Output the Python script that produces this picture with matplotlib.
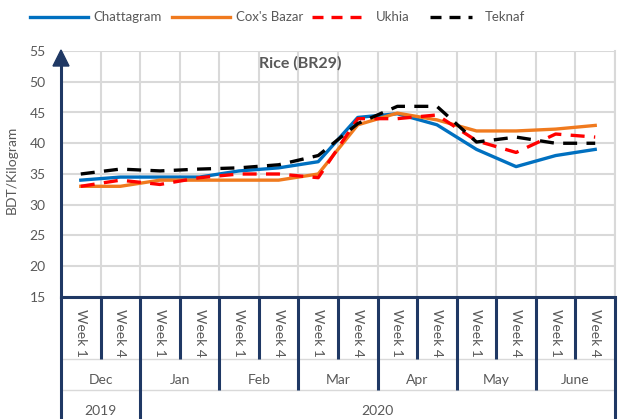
import matplotlib
matplotlib.use("Agg")
import matplotlib.pyplot as plt
from matplotlib.lines import Line2D
from matplotlib.patches import Polygon
import numpy as np

plt.rcParams['font.family'] = ['Lato', 'DejaVu Sans']

weeks = ["Week 1", "Week 4"] * 7
months = ["Dec", "Jan", "Feb", "Mar", "Apr", "May", "June"]
years = ["2019", "2020"]
year_months = [1, 6]  # number of months in each year group

series_names = ["Chattagram", "Cox's Bazar", "Ukhia", "Teknaf"]
chattagram = [34.0, 34.5, 34.5, 34.5, 35.5, 36.0, 37.0, 44.2, 44.8, 43.0, 39.0, 36.2, 38.0, 39.0]
coxs_bazar = [33.0, 33.0, 34.0, 34.0, 34.0, 34.0, 35.0, 43.0, 44.9, 43.8, 42.0, 42.0, 42.3, 42.9]
ukhia = [33.0, 34.0, 33.3, 34.4, 35.0, 35.0, 34.4, 44.0, 44.0, 44.6, 40.4, 38.5, 41.5, 41.0]
teknaf = [35.0, 35.8, 35.5, 35.8, 36.0, 36.5, 38.0, 43.2, 46.0, 46.0, 40.2, 41.0, 40.0, 40.0]

title = "Rice (BR29)"
ylabel = "BDT/Kilogram"

W, H = 619, 419
fig = plt.figure(figsize=(W / 100, H / 100), dpi=100)
L, R, T, B = 61, 615, 51, 297
ax = fig.add_axes([L / W, 1 - B / H, (R - L) / W, (B - T) / H])

navy = "#1F3864"
grid = "#D9D9D9"
txt = "#595959"
colors = ["#0070C0", "#F07A1E", "#FF0000", "#000000"]
dashed = [False, False, True, True]

x = np.arange(len(weeks))
lw = 2.4
for vals, c, d, name in zip([chattagram, coxs_bazar, ukhia, teknaf], colors, dashed, series_names):
    kw = dict(dashes=(4.2, 2.8)) if d else {}
    ax.plot(x, vals, color=c, lw=lw, label=name, zorder=4 if d else 3, **kw)

ax.set_xlim(-0.5, len(weeks) - 0.5)
ax.set_ylim(15, 55)
ax.set_yticks(np.arange(15, 56, 5))
ax.set_xticks(np.arange(0.5, len(weeks), 1.0))
ax.set_xticklabels([])
ax.tick_params(axis='x', length=0)
ax.tick_params(axis='y', length=0, pad=11, labelsize=10, labelcolor=txt)
ax.grid(True, color=grid, lw=1.5, zorder=0)
ax.set_axisbelow(True)
for s in ["top", "right"]:
    ax.spines[s].set_visible(False)
ax.spines["left"].set_color(navy)
ax.spines["left"].set_linewidth(2.2)
ax.spines["bottom"].set_color(navy)
ax.spines["bottom"].set_linewidth(2.2)
ax.axvline(len(weeks) - 0.5, color=grid, lw=1.5, zorder=0, clip_on=False)

# arrow at top of y-axis
tri = Polygon([[(L - 8) / W, 1 - 66 / H], [(L + 8) / W, 1 - 66 / H], [L / W, 1 - 50 / H]],
              closed=True, transform=fig.transFigure, color=navy, zorder=10)
fig.add_artist(tri)
ax.spines["left"].set_bounds(15, 53)

# category label area
tr = ax.get_xaxis_transform()
ph = B - T
def ay(py):
    return (B - py) / ph
y_week_end = ay(359)
y_month_end = ay(390)
y_bottom = ay(422)
lkw = dict(color=navy, lw=2.2, transform=tr, clip_on=False, solid_capstyle='butt')
for k in range(len(months)):
    ax.plot([2 * k + 0.5] * 2, [0, y_week_end], **lkw)
for k in range(1, len(months)):
    if k == year_months[0]:
        continue
    ax.plot([2 * k - 0.5] * 2, [0, y_month_end], **lkw)
for xv in [-0.5, 2 * year_months[0] - 0.5, len(weeks) - 0.5]:
    ax.plot([xv, xv], [0, y_bottom], **lkw)
for yv in [y_week_end, y_month_end]:
    ax.plot([-0.5, len(weeks) - 0.5], [yv, yv], color=grid, lw=1, transform=tr, clip_on=False, zorder=0)

for i, w in enumerate(weeks):
    ax.text(i, ay(333), w, rotation=-90, ha='center', va='center', fontsize=10, color=txt, transform=tr)
for k, m in enumerate(months):
    ax.text(2 * k + 0.5, ay(380), m, ha='center', va='center', fontsize=10, color=txt, transform=tr)
start = 0
for yname, n in zip(years, year_months):
    c = start + n - 0.5
    ax.text(c, ay(411), yname, ha='center', va='center', fontsize=10, color=txt, transform=tr)
    start += 2 * n

fig.text(300 / W, 1 - 63 / H, title, ha='center', va='center', fontsize=11.5, fontweight='bold', color=txt)
fig.text(12 / W, 1 - 170 / H, ylabel, rotation=90, ha='center', va='center', fontsize=10, color=txt)

# legend (manual placement)
leg_y = 1 - 17 / H
handle_x = [(30, 88), (172, 230), (312, 362), (430, 472)]
text_x = [93, 236, 376, 485]
for (x0, x1), tx, c, d, name in zip(handle_x, text_x, colors, dashed, series_names):
    kw = dict(dashes=(3.3, 2.4)) if d else {}
    fig.add_artist(Line2D([x0 / W, x1 / W], [leg_y, leg_y], color=c, lw=lw,
                          transform=fig.transFigure, **kw))
    fig.text(tx / W, leg_y, name, ha='left', va='center', fontsize=9.5, color=txt)

fig.savefig("out.png", dpi=100)
